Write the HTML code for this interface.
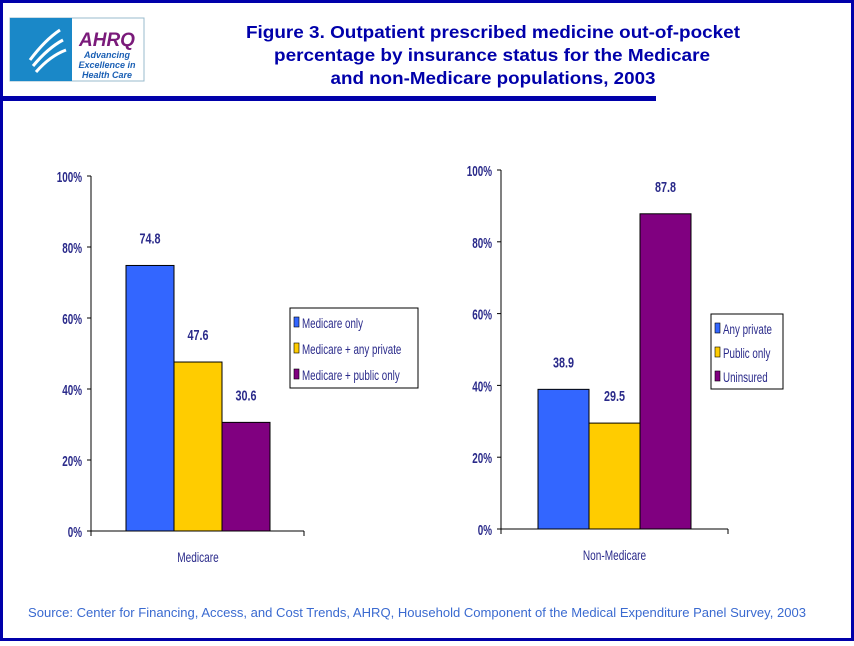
<!DOCTYPE html>
<html><head><meta charset="utf-8"><style>
body{margin:0;width:854px;height:641px;overflow:hidden;background:#fff;font-family:"Liberation Sans",sans-serif}
</style></head><body>
<svg width="854" height="641" viewBox="0 0 854 641" xmlns="http://www.w3.org/2000/svg">
<rect x="1.5" y="1.5" width="851" height="638" fill="#fff" stroke="#0000AA" stroke-width="3"/>
<rect x="0" y="96" width="656" height="5" fill="#0000AA"/>
<g>
<rect x="10" y="18" width="134" height="63" fill="#fff" stroke="#9bc" stroke-width="1"/>
<rect x="10" y="18" width="62" height="63" fill="#1a88c8"/>
<path d="M30 60 Q45 40 60 30 M33 66 Q48 48 63 40 M36 72 Q50 56 66 50" stroke="#fff" stroke-width="3" fill="none"/>
<text x="107" y="46" font-size="19" font-weight="bold" font-style="italic" fill="#7a1a7a" text-anchor="middle">AHRQ</text>
<text x="107" y="58" font-size="9" font-weight="bold" font-style="italic" fill="#1a5fb4" text-anchor="middle">Advancing</text>
<text x="107" y="68" font-size="9" font-weight="bold" font-style="italic" fill="#1a5fb4" text-anchor="middle">Excellence in</text>
<text x="107" y="78" font-size="9" font-weight="bold" font-style="italic" fill="#1a5fb4" text-anchor="middle">Health Care</text>
</g>
<g font-size="17.5" font-weight="bold" fill="#0000AA" text-anchor="middle">
<text x="493" y="38" textLength="494" lengthAdjust="spacingAndGlyphs">Figure 3. Outpatient prescribed medicine out-of-pocket</text>
<text x="492" y="61" textLength="436" lengthAdjust="spacingAndGlyphs">percentage by insurance status for the Medicare</text>
<text x="493" y="84" textLength="325" lengthAdjust="spacingAndGlyphs">and non-Medicare populations, 2003</text>
</g>
<g id="charts"></g>
<text x="417" y="617" font-size="13" fill="#3a6ad0" text-anchor="middle" textLength="778" lengthAdjust="spacingAndGlyphs">Source: Center for Financing, Access, and Cost Trends, AHRQ, Household Component of the Medical Expenditure Panel Survey, 2003</text>
</svg>
<script>
const leftCategories=["Medicare only","Medicare + any private","Medicare + public only"];
const leftValues=[74.8,47.6,30.6];
const rightCategories=["Any private","Public only","Uninsured"];
const rightValues=[38.9,29.5,87.8];
const tickLabels=["0%","20%","40%","60%","80%","100%"];
const tickValues=[0,20,40,60,80,100];
const colors=["#3366FF","#FFCC00","#800080"];
const NS="http://www.w3.org/2000/svg";
const root=document.getElementById('charts');
function mk(tag,attrs,parent){const e=document.createElementNS(NS,tag);for(const k in attrs)e.setAttribute(k,attrs[k]);parent.appendChild(e);return e;}
function ctext(parent,x,y,str,size,bold,anchor,sx){
  const t=mk('text',{x:0,y:0,'font-size':size,'font-weight':bold?'bold':'normal','text-anchor':anchor,fill:'#2a2a8a',transform:'translate('+x+','+y+') scale('+sx+',1)'},parent);
  t.textContent=str;
  return t;
}
function chart(cfg){
  const g=mk('g',{},root);
  
  
  const y=v=>cfg.y0-(v/100)*(cfg.y0-cfg.y100);
  const ax=mk('line',{x1:cfg.ax,y1:y(100),x2:cfg.ax,y2:cfg.y0+5,stroke:'#000','stroke-width':1},g);
  
  
  const xa=mk('line',{x1:cfg.ax,y1:cfg.y0,x2:cfg.axEnd,y2:cfg.y0,stroke:'#000','stroke-width':1},g);
  
  
  mk('line',{x1:cfg.axEnd,y1:cfg.y0,x2:cfg.axEnd,y2:cfg.y0+5,stroke:'#000'},g);
  tickValues.forEach((tv,i)=>{
    mk('line',{x1:cfg.ax-4,y1:y(tv),x2:cfg.ax,y2:y(tv),stroke:'#000'},g);
    const t=ctext(g,cfg.ax-9,y(tv)+6,tickLabels[i],15,true,'end',0.66);
    
    
  });
  const bw=cfg.bw;
  cfg.values.forEach((v,i)=>{
    const x=cfg.bx+i*bw;
    const r=mk('rect',{x:x,y:y(v),width:bw,height:cfg.y0-y(v),fill:colors[i],stroke:'#000','stroke-width':1},g);
    
    
    const t=ctext(g,x+bw/2,y(v)-22,v.toFixed(1),15,true,'middle',0.72);
    
    
  });
  const xl=ctext(g,cfg.bx+bw*1.5,cfg.y0+31,cfg.xlabel,14,false,'middle',0.72);
  
  
  const lg=mk('g',{},g);
  
  
  mk('rect',{x:cfg.lx,y:cfg.ly,width:cfg.lw,height:cfg.lh,fill:'#fff',stroke:'#000','stroke-width':1},lg);
  cfg.cats.forEach((c,i)=>{
    const yy=cfg.ly+15+i*cfg.lstep;
    mk('rect',{x:cfg.lx+4,y:yy-6,width:5,height:10,fill:colors[i],stroke:'#000','stroke-width':0.6},lg);
    const t=ctext(lg,cfg.lx+12,yy+5,c,14,false,'start',0.7);
    
    
  });
}
chart({name:'medicare-chart',values:leftValues,cats:leftCategories,ax:91,axEnd:304,y0:531,y100:176,bx:126,bw:48,xlabel:'Medicare',lx:290,ly:308,lw:128,lh:80,lstep:26});
chart({name:'non-medicare-chart',values:rightValues,cats:rightCategories,ax:501,axEnd:728,y0:529,y100:170,bx:538,bw:51,xlabel:'Non-Medicare',lx:711,ly:314,lw:72,lh:75,lstep:24});
</script>
</body></html>
